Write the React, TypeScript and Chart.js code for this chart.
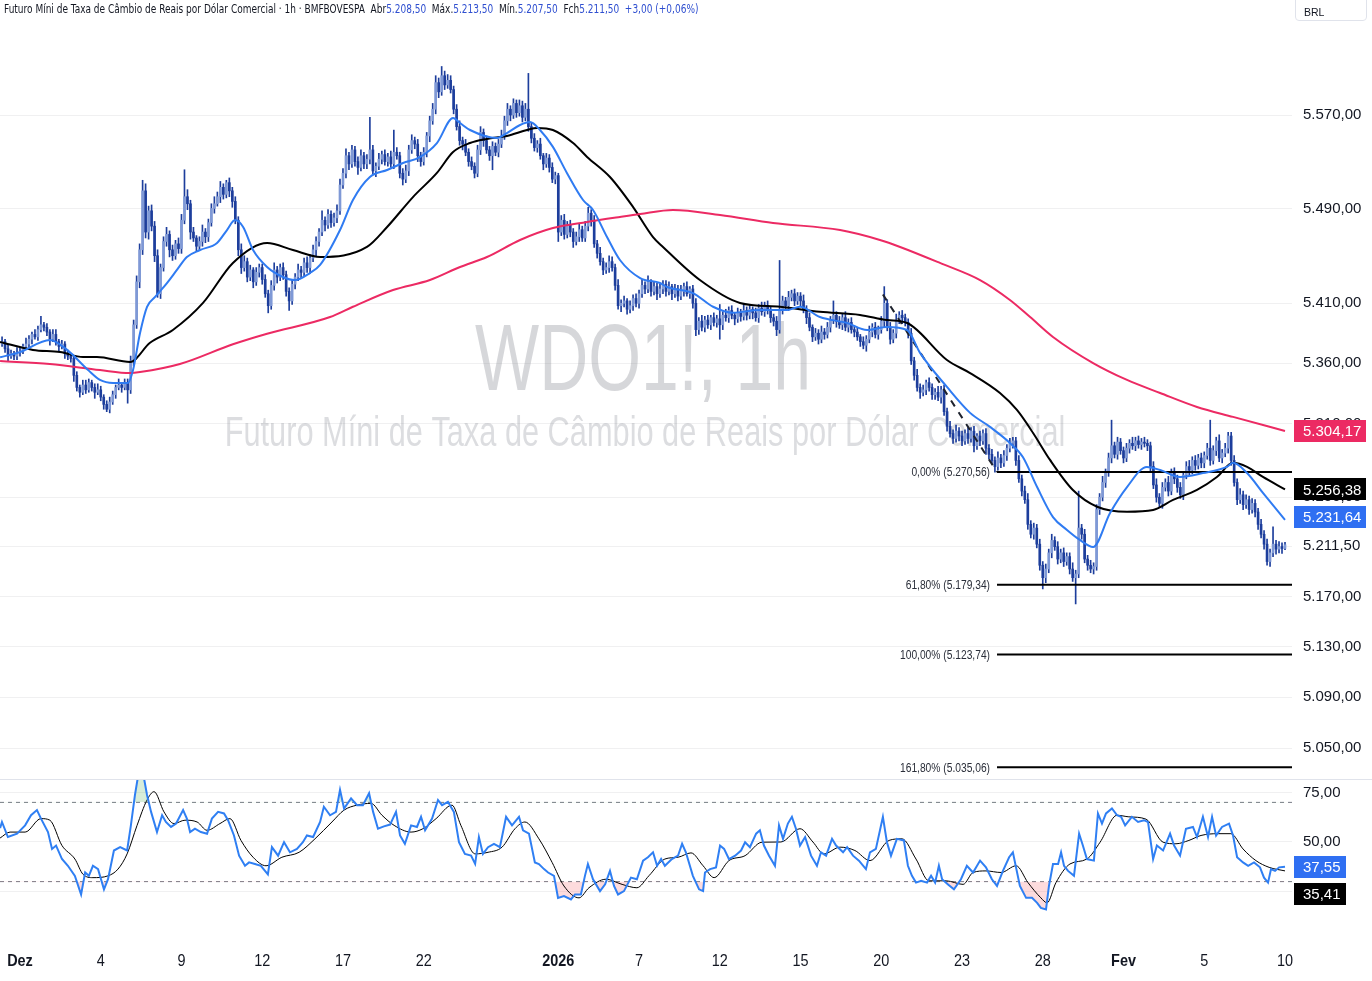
import React, { useEffect, useRef } from "react";
import { Chart, registerables } from "chart.js";

Chart.register(...registerables);

// ---------------- fonts / colours ----------------
const FONT_NARROW = "'Liberation Sans Narrow', 'DejaVu Sans Condensed', 'Liberation Sans', sans-serif";
const FONT_AXIS = "'Liberation Sans', Arial, sans-serif";
const TEXT = "#131722";
const GRID = "rgba(42,46,57,0.07)";
const CANDLE_DOWN = "#1d3e9c";
const CANDLE_UP = "#7f99d6";
const MA_FAST = "#2f7bf2";
const MA_MID = "#000000";
const MA_SLOW = "#ec2a63";
const RSI_BLUE = "#2f7ff3";

// ---------------- axes ----------------
const X_MIN = -0.743;
const X_MAX = 47.26;
const PRICE_MIN = 5025.93;
const PRICE_MAX = 5670.06;
const RSI_MIN = -2;
const RSI_MAX = 81.8;

const priceTicks = [5050, 5090, 5130, 5170, 5210, 5250, 5310, 5360, 5410, 5490, 5570];
const rsiTicks = [25, 50, 75];
const dayTicks = [0, 3, 6, 9, 12, 15, 20, 23, 26, 29, 32, 35, 38, 41, 44, 47];
const dayLabels = ["Dez", "4", "9", "12", "17", "22", "2026", "7", "12", "15", "20", "23", "28", "Fev", "5", "10"];
const dayLabelBold = [true, false, false, false, false, false, true, false, false, false, false, false, false, true, false, false];

// ---------------- candles (1h, 9 bars per trading day) ----------------
const firstDay = -1;
const firstSlot = 3;
const barsPerDay = 9;
const firstOpen = 5376;

const closes = [
  5378, 5372, 5366, 5368, 5366, 5369,
  5370, 5374, 5376, 5380, 5384, 5382, 5388, 5392, 5390,
  5386, 5380, 5384, 5378, 5374, 5376, 5368, 5366, 5364,
  5350, 5340, 5336, 5342, 5338, 5344, 5340, 5336, 5338,
  5332, 5326, 5322, 5328, 5334, 5340, 5342, 5340, 5344,
  5338, 5362, 5392, 5428, 5455, 5505, 5470, 5488, 5475,
  5450, 5418, 5440, 5462, 5468, 5455, 5450, 5460, 5456,
  5480, 5500, 5494, 5470, 5465, 5458, 5462, 5470, 5466,
  5478, 5490, 5494, 5500, 5508, 5502, 5512, 5505, 5496,
  5480, 5455, 5440, 5445, 5432, 5438, 5428, 5436, 5440,
  5430, 5418, 5408, 5425, 5438, 5432, 5440, 5434, 5420,
  5412, 5426, 5432, 5438, 5436, 5444, 5440, 5448, 5455,
  5462, 5470, 5480, 5476, 5485, 5478, 5482, 5488, 5510,
  5520, 5535, 5528, 5540, 5530, 5525, 5535, 5528, 5532,
  5540, 5522, 5526, 5532, 5536, 5530, 5534, 5528, 5538,
  5535, 5520, 5515, 5522, 5540, 5548, 5545, 5535, 5530,
  5538, 5552, 5565, 5575, 5598, 5590, 5604, 5596, 5600,
  5592, 5575, 5560, 5548, 5545, 5538, 5530, 5526, 5520,
  5540, 5555, 5548, 5540, 5535, 5543, 5538, 5545, 5552,
  5565, 5575, 5570, 5580, 5572, 5578, 5568, 5575, 5560,
  5550, 5542, 5545, 5535, 5528, 5533, 5525, 5515, 5518,
  5470, 5480, 5468, 5476, 5470, 5462, 5466, 5472, 5465,
  5475, 5486, 5480, 5460, 5452, 5445, 5438, 5440, 5445,
  5440, 5425, 5408, 5410, 5412, 5405, 5408, 5414, 5410,
  5418, 5425, 5422, 5428, 5420, 5424, 5418, 5422, 5426,
  5420, 5424, 5418, 5422, 5416, 5420, 5424, 5418, 5422,
  5410, 5388, 5395, 5390, 5396, 5392, 5398, 5394, 5397,
  5392, 5400, 5398, 5404, 5400, 5397, 5402, 5399, 5404,
  5400, 5405, 5402, 5398, 5406, 5403, 5408, 5404, 5398,
  5395, 5388, 5405, 5412, 5408, 5415, 5418, 5412, 5416,
  5412, 5405, 5398, 5390, 5382, 5385, 5380, 5386, 5384,
  5390, 5396, 5400, 5395, 5392, 5398, 5390, 5394, 5388,
  5386, 5382, 5378, 5375, 5380, 5386, 5390, 5384, 5388,
  5395, 5410, 5390, 5380, 5385, 5396, 5400, 5398, 5394,
  5385, 5362, 5350, 5340, 5336, 5338, 5344, 5340, 5334,
  5336, 5332, 5338, 5320, 5308, 5302, 5298, 5304, 5300,
  5296, 5302, 5298, 5304, 5292, 5300, 5296, 5302, 5290,
  5285, 5280, 5275, 5282, 5278, 5284, 5290, 5294, 5296,
  5280, 5265, 5255, 5248, 5228, 5220, 5225, 5212, 5195,
  5185, 5192, 5205, 5215, 5210, 5200, 5205, 5198, 5202,
  5192, 5185, 5188, 5225, 5220, 5200, 5195, 5192, 5194,
  5240, 5250, 5262, 5270, 5282, 5292, 5285, 5295, 5288,
  5282, 5290, 5294, 5292, 5296, 5293, 5295, 5294, 5292,
  5275, 5260, 5250, 5245, 5258, 5262, 5255, 5270, 5265,
  5258, 5252, 5268, 5275, 5272, 5280, 5276, 5282, 5278,
  5284, 5290, 5280, 5288, 5296, 5282, 5286, 5290, 5300,
  5280, 5262, 5248, 5252, 5244, 5248, 5240, 5245, 5238,
  5228, 5220, 5212, 5198, 5205, 5212, 5208, 5210, 5208.5,
  5211.5,
];

const highExt = [
  4, 2, 3, 3, 2, 4,
  3, 2, 5, 3, 2, 4, 3, 7, 2,
  3, 2, 4, 4, 2, 3, 2, 3, 2,
  2, 3, 2, 4, 4, 3, 2, 3, 5,
  3, 2, 3, 4, 3, 2, 5, 2, 3,
  3, 4, 4, 5, 5, 9, 6, 4, 5,
  4, 5, 3, 4, 6, 3, 4, 3, 5,
  5, 23, 6, 3, 4, 2, 4, 6, 3,
  3, 4, 6, 4, 5, 3, 2, 4, 3,
  4, 3, 5, 5, 3, 4, 2, 4, 3,
  3, 4, 3, 4, 6, 3, 3, 4, 3,
  3, 4, 3, 5, 3, 4, 5, 3, 4,
  4, 3, 8, 3, 4, 3, 4, 5, 5,
  4, 6, 3, 4, 3, 4, 5, 3, 4,
  28, 4, 3, 5, 3, 4, 3, 5, 19,
  4, 3, 4, 5, 4, 5, 3, 4, 3,
  4, 3, 4, 5, 6, 4, 8, 4, 5,
  4, 3, 4, 5, 3, 4, 3, 4, 3,
  4, 5, 3, 4, 3, 4, 3, 4, 5,
  4, 5, 3, 4, 3, 5, 4, 5, 31,
  3, 4, 3, 5, 2, 4, 3, 4, 3,
  2, 4, 5, 3, 4, 3, 4, 5, 3,
  4, 5, 3, 4, 3, 5, 3, 4, 5,
  4, 3, 5, 3, 4, 2, 4, 3, 4,
  3, 5, 3, 5, 2, 4, 3, 4, 3,
  3, 4, 2, 4, 3, 5, 3, 4, 2,
  3, 4, 3, 5, 3, 4, 2, 4, 3,
  12, 3, 5, 3, 4, 2, 4, 3, 5,
  3, 4, 2, 4, 3, 5, 3, 4, 3,
  3, 4, 41, 4, 3, 5, 3, 4, 3,
  3, 5, 3, 4, 2, 4, 3, 5, 3,
  4, 3, 12, 3, 4, 3, 5, 3, 4,
  3, 4, 2, 4, 3, 5, 3, 4, 3,
  4, 14, 3, 4, 3, 5, 3, 4, 3,
  3, 4, 3, 5, 3, 4, 2, 4, 3,
  3, 5, 3, 4, 3, 4, 3, 5, 3,
  4, 3, 5, 3, 4, 2, 4, 3, 4,
  3, 4, 3, 5, 3, 4, 3, 4, 3,
  3, 4, 3, 4, 5, 3, 4, 3, 4,
  3, 4, 3, 5, 3, 4, 3, 4, 3,
  3, 5, 3, 30, 3, 4, 3, 4, 3,
  4, 3, 5, 3, 4, 21, 3, 4, 3,
  3, 4, 3, 5, 3, 4, 3, 4, 3,
  3, 4, 5, 3, 4, 3, 5, 3, 4,
  3, 4, 3, 4, 5, 3, 4, 3, 4,
  3, 4, 23, 4, 3, 5, 3, 4, 3,
  3, 4, 3, 5, 3, 4, 3, 4, 3,
  3, 4, 3, 4, 3, 14, 3, 4, 3,
  2,
];

const lowExt = [
  2, 3, 4, 2, 3, 3,
  3, 2, 2, 4, 4, 2, 3, 2, 3,
  3, 5, 2, 3, 4, 2, 4, 3, 3,
  5, 3, 4, 2, 3, 2, 3, 5, 2,
  3, 4, 2, 3, 2, 3, 2, 4, 2,
  11, 3, 4, 3, 5, 4, 5, 6, 4,
  5, 3, 4, 3, 4, 6, 4, 3, 4,
  4, 3, 5, 6, 3, 4, 3, 4, 5,
  4, 3, 4, 2, 5, 4, 3, 5, 5,
  3, 5, 5, 3, 4, 3, 5, 3, 4,
  4, 3, 6, 3, 4, 5, 3, 4, 4,
  8, 3, 4, 3, 5, 3, 4, 5, 3,
  5, 4, 3, 5, 3, 4, 3, 4, 3,
  3, 4, 5, 3, 4, 6, 3, 4, 4,
  4, 3, 5, 3, 4, 3, 4, 3, 4,
  3, 4, 5, 3, 4, 3, 4, 5, 4,
  3, 4, 5, 3, 4, 5, 3, 4, 3,
  3, 4, 3, 4, 5, 3, 4, 3, 4,
  3, 4, 5, 3, 4, 12, 3, 4, 3,
  3, 4, 5, 3, 4, 3, 4, 3, 4,
  4, 3, 4, 3, 5, 3, 4, 3, 4,
  8, 3, 4, 3, 4, 5, 3, 4, 3,
  3, 4, 5, 3, 4, 3, 4, 3, 4,
  3, 4, 3, 5, 3, 4, 3, 4, 3,
  4, 3, 4, 3, 4, 3, 5, 3, 4,
  4, 3, 5, 3, 4, 3, 4, 2, 4,
  4, 5, 4, 3, 4, 3, 4, 3, 4,
  12, 4, 3, 4, 3, 5, 3, 4, 3,
  4, 3, 5, 3, 4, 3, 4, 3, 4,
  4, 5, 3, 4, 3, 4, 3, 4, 3,
  4, 3, 5, 3, 4, 3, 4, 3, 4,
  3, 4, 3, 5, 3, 4, 3, 4, 3,
  4, 3, 4, 3, 5, 3, 4, 3, 4,
  3, 5, 3, 4, 3, 4, 3, 5, 3,
  4, 3, 4, 3, 5, 3, 4, 3, 4,
  4, 3, 5, 3, 4, 3, 4, 3, 4,
  4, 3, 4, 3, 5, 3, 4, 3, 5,
  4, 3, 4.5, 3, 4, 3, 4, 3, 4,
  4, 3, 4, 3, 4, 3, 4, 3, 4,
  9, 4, 3, 4, 3, 4, 3, 4, 3,
  4, 3, 21, 3, 4, 3, 4, 3, 4,
  3, 4, 3, 4, 3, 4, 3, 4, 3,
  4, 3, 4, 3, 4, 3, 4, 3, 4,
  4, 3, 4, 3, 4, 3, 4, 3, 4,
  4, 3, 4, 3, 4, 3, 4, 3, 4,
  4, 3, 4, 3, 4, 3, 4, 3, 4,
  4, 3, 4, 3, 4, 3, 4, 3, 4,
  4, 3, 4, 3, 4, 3, 4, 3, 4,
  1,
];

// ---------------- moving averages ([trading day, price]) ----------------
const maFast = [
  [-0.74, 5365], [0, 5369.3], [1.11, 5379.4], [1.75, 5371.1], [2.53, 5354.4], [2.97, 5346.2], [3.46, 5343.7],
  [4.01, 5343.7], [4.2, 5354.4], [4.46, 5385.2], [4.72, 5407.1], [5.02, 5415.3], [5.46, 5427], [5.83, 5438],
  [6.2, 5448.9], [6.69, 5454.8], [7.32, 5460.8], [7.69, 5471.7], [7.99, 5480.2], [8.29, 5474.3], [8.66, 5454.8],
  [9.18, 5440.5], [9.77, 5432.1], [10.22, 5429.5], [10.77, 5435.4], [11.15, 5442.2], [11.89, 5471.7], [12.37, 5497.2],
  [13, 5516.8], [13.64, 5522.8], [14.23, 5528.8], [14.86, 5533.9], [15.49, 5545.9], [16.09, 5567.4], [16.35, 5563.1],
  [16.72, 5557.1], [17.72, 5550.2], [18.09, 5554.5], [18.58, 5561.4], [18.95, 5563.9], [19.32, 5557.1], [19.8, 5542.6],
  [20.32, 5520.3], [20.92, 5497.2], [21.29, 5488.7], [21.81, 5465.8], [22.29, 5446.4], [23.04, 5431.2], [23.78, 5427],
  [24.04, 5423.7], [25, 5418.6], [25.75, 5407.1], [26.49, 5402.1], [27.49, 5404.4], [28.5, 5404.4], [28.98, 5407.1],
  [29.72, 5398.5], [30.73, 5393.5], [31.47, 5387.7], [32.21, 5390.2], [32.96, 5387.7], [33.44, 5368.6], [34.44, 5340.4],
  [35.3, 5319], [36.04, 5307.5], [36.78, 5294.3], [37.26, 5282.8], [37.79, 5258.3], [38.38, 5233.9], [38.9, 5223.5],
  [39.38, 5215.4], [39.87, 5209.7], [40.5, 5237.2], [41.13, 5258.3], [41.87, 5274.7], [42.36, 5272.2], [43.1, 5266.5],
  [43.95, 5269.7], [44.84, 5274.7], [45.07, 5278], [45.59, 5269.7], [46.18, 5253.5], [47, 5231.64],
];

const maMid = [
  [-0.74, 5377.7], [0.48, 5371.1], [1.49, 5369.4], [2.34, 5365.2], [2.86, 5365.2], [4.09, 5361.1], [4.83, 5377],
  [5.68, 5387.7], [6.8, 5410.3], [7.91, 5443.9], [9.18, 5460.8], [10.14, 5454.8], [11.15, 5448.9], [12.89, 5457.4],
  [13.64, 5474.3], [14.6, 5499.7], [15.49, 5520.3], [16.09, 5538.2], [16.72, 5545.9], [17.35, 5549.4], [18.09, 5552],
  [18.84, 5557.1], [19.21, 5558.9], [19.8, 5557.1], [20.55, 5545.9], [21.07, 5534], [21.92, 5516.8], [22.78, 5491.2],
  [23.52, 5465.8], [23.89, 5457.4], [25.26, 5429.5], [26.75, 5410.3], [28.24, 5407.1], [29.72, 5402.9], [31.21, 5400.3],
  [32.21, 5396], [32.96, 5393.5], [34.44, 5362.7], [35.3, 5351.9], [36.41, 5335.4], [37.04, 5321.4], [37.64, 5302.5],
  [38.27, 5280.4], [39.12, 5255.9], [40.02, 5242.3], [41.13, 5238.2], [42.1, 5239.6], [42.84, 5247.8], [43.73, 5255.9],
  [44.47, 5266.5], [45.07, 5278], [45.59, 5274.7], [46.18, 5266.5], [47, 5256.38],
];

const maSlow = [
  [-0.74, 5361.9], [1.11, 5359.4], [2.97, 5354.4], [4.09, 5351.9], [4.46, 5352.7], [5.94, 5359.4], [7.91, 5375.8],
  [9.18, 5384.6], [11.52, 5398.5], [12.37, 5407.1], [13.86, 5421.1], [15.23, 5429.5], [16.35, 5440.5], [17.35, 5448.9],
  [18.58, 5463.3], [19.8, 5473.4], [21.07, 5478.5], [22.29, 5482.8], [23.04, 5485.3], [24.26, 5488.7], [26.01, 5484.5],
  [27.98, 5477.7], [30.47, 5471.7], [31.95, 5463.3], [32.7, 5457.4], [34.18, 5443.9], [35.67, 5429.5], [36.78, 5412.8],
  [37.53, 5398.5], [38.38, 5381.9], [39.87, 5360.2], [41.13, 5346.2], [42.36, 5335.4], [43.73, 5323.9], [45.07, 5315.7],
  [47, 5304.17],
];

// ---------------- RSI ([trading day, value]) ----------------
const rsiLine = [
  [-0.74, 57], [-0.67, 60.1], [-0.45, 52.5], [-0.11, 54.2], [0.19, 58.4], [0.41, 63.5], [0.63, 66.1], [0.78, 61.8],
  [1.04, 55], [1.19, 46.5], [1.34, 48.2], [1.56, 41.4], [1.78, 38], [2.04, 32.9], [2.27, 23.5], [2.42, 34.6],
  [2.56, 32.9], [2.71, 38], [2.9, 36.3], [3.12, 26.1], [3.27, 31.2], [3.49, 45.7], [3.72, 47.4], [3.98, 45.7],
  [4.12, 58.4], [4.27, 73.7], [4.42, 86], [4.57, 85], [4.72, 73.7], [4.87, 65.2], [5.09, 55], [5.28, 63.5],
  [5.42, 60.1], [5.61, 57.6], [5.8, 59.3], [6.06, 66.1], [6.2, 61.8], [6.32, 55], [6.5, 56.7], [6.72, 55],
  [6.95, 54.2], [7.13, 61.8], [7.36, 65.2], [7.58, 64.4], [7.73, 61], [7.95, 53.3], [8.14, 43.1], [8.36, 38],
  [8.51, 39.7], [8.73, 38.9], [8.95, 38], [9.21, 33.7], [9.36, 47.4], [9.59, 43.1], [9.81, 49.9], [10.03, 44.8],
  [10.29, 46.5], [10.51, 49.9], [10.66, 53.3], [10.89, 52.5], [11.15, 60.1], [11.29, 67.8], [11.52, 63.5], [11.74, 65.2],
  [11.89, 76.3], [12.04, 66.9], [12.3, 72], [12.52, 68.6], [12.74, 68.6], [12.97, 74.6], [13.12, 65.2], [13.3, 56.7],
  [13.52, 57.9], [13.75, 58.8], [13.97, 65.2], [14.12, 53.3], [14.3, 49.1], [14.53, 58.4], [14.75, 57.6], [14.9, 62.7],
  [15.05, 55.9], [15.31, 61.8], [15.53, 71.2], [15.68, 68.6], [15.9, 70.3], [16.12, 65.2], [16.31, 49.9], [16.53, 44],
  [16.76, 43.1], [16.91, 38.9], [17.05, 52.5], [17.2, 44], [17.39, 47.4], [17.61, 49.1], [17.83, 47.4], [18.06, 62.7],
  [18.28, 58.4], [18.54, 62.7], [18.69, 55.9], [18.91, 54.2], [19.13, 39.7], [19.28, 38.9], [19.47, 36.3], [19.62, 34.6],
  [19.84, 32.9], [19.99, 21.8], [20.21, 22.7], [20.47, 21], [20.62, 23.5], [20.84, 23.5], [20.99, 32.9], [21.1, 38.9],
  [21.29, 31.2], [21.55, 25.2], [21.74, 28.6], [21.92, 35.4], [22.07, 27.8], [22.22, 23.5], [22.44, 25.2], [22.7, 32],
  [22.92, 31.2], [23.15, 40.6], [23.33, 42.3], [23.52, 44.8], [23.67, 38], [23.82, 41.4], [23.96, 38], [24.22, 41.4],
  [24.45, 43.1], [24.6, 49.1], [24.74, 44.8], [25, 32.9], [25.23, 26.1], [25.38, 25.2], [25.45, 34.6], [25.64, 36.3],
  [25.86, 37.2], [26.01, 48.2], [26.16, 46.5], [26.34, 41.4], [26.57, 43.1], [26.79, 45.7], [26.94, 49.9], [27.12, 47.4],
  [27.35, 54.2], [27.49, 55.9], [27.64, 48.2], [27.83, 43.1], [28.05, 38], [28.2, 58.4], [28.35, 51.6], [28.53, 59.3],
  [28.68, 62.7], [28.83, 56.7], [28.98, 48.2], [29.17, 52.5], [29.39, 43.1], [29.61, 38], [29.76, 44.8], [29.95, 43.1],
  [30.17, 51.6], [30.32, 48.2], [30.58, 44.8], [30.73, 47.4], [30.95, 43.1], [31.17, 40.6], [31.43, 36.3], [31.58, 44.8],
  [31.8, 46.5], [32.06, 62.7], [32.21, 49.9], [32.36, 43.1], [32.58, 51.6], [32.84, 50.8], [32.99, 38], [33.14, 32.9],
  [33.29, 29.5], [33.48, 30.4], [33.7, 29.5], [33.85, 33], [34, 29.5], [34.14, 38], [34.26, 31.2], [34.48, 28.6],
  [34.7, 26.1], [34.96, 31.2], [35.18, 38], [35.41, 34.6], [35.67, 40.6], [35.89, 37.2], [36.11, 31.2], [36.3, 27.8],
  [36.52, 35.4], [36.75, 42.3], [36.89, 44.8], [37.15, 27.8], [37.38, 21.8], [37.6, 21.8], [37.79, 19.3], [37.93, 16.7],
  [38.12, 15.9], [38.23, 27.8], [38.38, 38.9], [38.57, 38.9], [38.68, 44.8], [38.79, 38], [38.94, 35.4], [39.16, 32.9],
  [39.35, 54.2], [39.49, 48.2], [39.64, 41.4], [39.9, 40.6], [40.05, 64.4], [40.2, 59.3], [40.35, 64.4], [40.57, 66.9],
  [40.76, 63.5], [40.91, 62.7], [41.06, 58.4], [41.31, 62.7], [41.54, 60.1], [41.76, 61], [41.91, 60.1], [42.1, 41.4],
  [42.24, 48.2], [42.47, 45.7], [42.73, 54.2], [42.88, 48.2], [43.1, 43.1], [43.32, 56.7], [43.58, 57.6], [43.73, 52.5],
  [43.95, 62.7], [44.14, 52.5], [44.29, 62.7], [44.44, 53.3], [44.66, 57.6], [44.92, 59.3], [45.07, 53.3], [45.22, 42.3],
  [45.44, 39.7], [45.63, 38], [45.85, 39.7], [46.07, 37.2], [46.22, 32], [46.37, 29.5], [46.48, 36.3], [46.63, 35.4],
  [46.78, 37.2], [47, 37.55],
];

const rsiSignal = [
  [-0.74, 52], [-0.37, 55], [0.19, 55], [0.78, 61.8], [1.11, 61], [1.56, 48.2], [2.04, 41.4], [2.34, 33.7], [2.71, 32],
  [3.27, 32.9], [3.64, 36.3], [3.98, 44], [4.35, 58.4], [4.72, 71.2], [4.98, 75.4], [5.35, 65.2], [5.72, 59.3],
  [6.13, 61], [6.58, 60.1], [6.95, 55.9], [7.43, 59.3], [7.8, 61.8], [8.21, 50.8], [8.66, 42.3], [9.14, 38],
  [9.73, 42.3], [10.37, 44.8], [10.96, 51.6], [11.59, 60.1], [12.04, 66.1], [12.52, 68.6], [13.04, 69.5], [13.45, 63.5],
  [13.9, 58.4], [14.53, 55], [14.97, 56.7], [15.46, 61.8], [16.05, 68.6], [16.38, 58.4], [16.91, 44], [17.39, 44.8],
  [17.91, 47.4], [18.39, 56.7], [18.76, 60.1], [19.28, 51.6], [19.77, 39.7], [20.21, 27.8], [20.77, 21.8], [21.14, 26.9],
  [21.77, 31.2], [22.37, 28.6], [22.92, 26.9], [23.37, 33], [23.96, 41.4], [24.45, 42.3], [24.93, 44.5], [25.38, 38],
  [25.79, 32], [26.34, 40.6], [26.94, 43.1], [27.57, 49.9], [28.27, 50], [28.98, 56.7], [29.46, 50], [29.87, 44],
  [30.47, 47.4], [31.02, 45.7], [31.58, 40.6], [32.29, 50.8], [32.77, 51.6], [33.29, 41.4], [33.77, 30.4], [34.41, 30.4],
  [35.04, 28.6], [35.41, 34.6], [35.89, 35.4], [36.45, 34.6], [37.01, 38], [37.45, 29.5], [37.93, 21.8], [38.16, 19.3],
  [38.49, 29.5], [39.01, 38.9], [39.64, 41.4], [40.13, 49.9], [40.76, 63.5], [41.2, 62.7], [41.84, 61.5], [42.47, 49.9],
  [42.95, 49.1], [43.43, 50.8], [43.88, 53.3], [44.51, 54.2], [44.99, 54.2], [45.44, 46.5], [45.92, 40.6], [46.41, 37.2],
  [47, 35.41],
];
const rsiBands = [70, 30];

// ---------------- Fibonacci extension ----------------
const fibRatios = ["0,00%", "61,80%", "100,00%", "161,80%"];
const fibLevels = [5270.56, 5179.34, 5123.74, 5035.06];
const fibStartDay = 36.3;
const trendLine = [[32.06, 5417.38], [36.3, 5270.56]];

// ---------------- texts ----------------
const symbolText = "WDO1!, 1h";
const descText = "Futuro Míni de Taxa de Câmbio de Reais por Dólar Comercial";
const headerMeta = "1h · BMFBOVESPA";
const currency = "BRL";

// ---------------- helpers ----------------
function fmt(v: number, dec = 2) {
  const s = Number(v).toFixed(dec);
  const parts = s.split(".");
  const neg = parts[0].startsWith("-");
  const intp = (neg ? parts[0].slice(1) : parts[0]).replace(/\B(?=(\d{3})+(?!\d))/g, ".");
  return (neg ? "-" : "") + intp + (parts[1] ? "," + parts[1] : "");
}

const candles = closes.map((c, i) => {
  const o = i === 0 ? firstOpen : closes[i - 1];
  const slotIndex = firstSlot + i;
  const day = firstDay + Math.floor(slotIndex / barsPerDay);
  const slot = slotIndex % barsPerDay;
  return {
    x: day + slot / barsPerDay,
    o,
    c,
    h: Math.max(o, c) + highExt[i],
    l: Math.min(o, c) - lowExt[i],
  };
});
const lastBar = candles[candles.length - 1];
const prevClose = closes[closes.length - 2];

const pts = (arr: number[][]) => arr.map(([x, y]) => ({ x, y }));

function drawBadge(ctx: CanvasRenderingContext2D, y: number, text: string, bg: string, fg: string, x: number, w: number) {
  ctx.fillStyle = bg;
  ctx.fillRect(x, Math.round(y - 11), w, 22);
  ctx.fillStyle = fg;
  ctx.textAlign = "left";
  ctx.textBaseline = "middle";
  ctx.font = `15px ${FONT_AXIS}`;
  ctx.fillText(text, x + 9, y + 1);
}

function scaledText(ctx: CanvasRenderingContext2D, text: string, x: number, y: number, sx: number, font: string, align: CanvasTextAlign, color: string) {
  ctx.save();
  ctx.translate(x, y);
  ctx.scale(sx, 1);
  ctx.font = font;
  ctx.textAlign = align;
  ctx.textBaseline = "middle";
  ctx.fillStyle = color;
  ctx.fillText(text, 0, 0);
  ctx.restore();
}

const watermarkPlugin = {
  id: "watermark",
  beforeDatasetsDraw(chart: any) {
    const { ctx, chartArea } = chart;
    const cx = (chartArea.left + chartArea.right) / 2;
    ctx.save();
    ctx.fillStyle = "rgba(120,123,134,0.30)";
    ctx.textAlign = "center";
    ctx.textBaseline = "alphabetic";
    ctx.translate(cx - 3, 390);
    ctx.scale(0.715, 1);
    ctx.font = `95px ${FONT_AXIS}`;
    ctx.fillText(symbolText, 0, 0);
    ctx.restore();
    ctx.save();
    ctx.fillStyle = "rgba(120,123,134,0.26)";
    ctx.textAlign = "center";
    ctx.textBaseline = "alphabetic";
    ctx.translate(cx - 1, 446);
    ctx.scale(0.715, 1);
    ctx.font = `43px ${FONT_AXIS}`;
    ctx.fillText(descText, 0, 0);
    ctx.restore();
  },
};

const priceOverlayPlugin = {
  id: "priceOverlay",
  afterDatasetsDraw(chart: any) {
    const { ctx } = chart;
    const xs = chart.scales.x;
    const ys = chart.scales.y;
    fibLevels.forEach((lv, i) => {
      scaledText(
        ctx,
        `${fibRatios[i]} (${fmt(lv)})`,
        xs.getPixelForValue(fibStartDay) - 7,
        ys.getPixelForValue(lv) + 1,
        0.82,
        `12.5px ${FONT_AXIS}`,
        "right",
        "#2a2e39"
      );
    });
  },
  afterDraw(chart: any) {
    const { ctx } = chart;
    const ys = chart.scales.y;
    const x0 = chart.chartArea.right + 2;
    ctx.save();
    drawBadge(ctx, ys.getPixelForValue(maSlow[maSlow.length - 1][1]), fmt(maSlow[maSlow.length - 1][1]), MA_SLOW, "#fff", x0, 72);
    drawBadge(ctx, ys.getPixelForValue(maMid[maMid.length - 1][1]), fmt(maMid[maMid.length - 1][1]), "#000", "#fff", x0, 72);
    drawBadge(ctx, ys.getPixelForValue(maFast[maFast.length - 1][1]) - 3, fmt(maFast[maFast.length - 1][1]), "#2f6ff2", "#fff", x0, 72);
    drawBadge(ctx, ys.getPixelForValue(lastBar.c), fmt(lastBar.c), "#ffffff", TEXT, x0, 72);
    ctx.restore();
  },
};

const rsiOverlayPlugin = {
  id: "rsiOverlay",
  afterDraw(chart: any) {
    const { ctx, width, chartArea } = chart;
    const ys = chart.scales.y;
    const xs = chart.scales.x;
    const x0 = chartArea.right + 2;
    ctx.save();
    ctx.fillStyle = "#e0e3eb";
    ctx.fillRect(0, 0, width, 1);
    const vals = [
      { v: rsiLine[rsiLine.length - 1][1], bg: "#2f6ff2" },
      { v: rsiSignal[rsiSignal.length - 1][1], bg: "#000" },
    ];
    let prevBottom = -Infinity;
    vals.forEach((b) => {
      let y = ys.getPixelForValue(b.v);
      if (y - 11 < prevBottom + 5) y = prevBottom + 5 + 11;
      prevBottom = y + 11;
      drawBadge(ctx, y, fmt(b.v), b.bg, "#fff", x0, 52);
    });
    ctx.restore();
    dayTicks.forEach((d, i) => {
      scaledText(
        ctx,
        dayLabels[i],
        xs.getPixelForValue(d),
        chartArea.bottom + 16,
        0.85,
        `${dayLabelBold[i] ? "bold " : ""}17px ${FONT_AXIS}`,
        "center",
        TEXT
      );
    });
  },
};

function PriceChart() {
  const ref = useRef<HTMLCanvasElement>(null);
  useEffect(() => {
    if (!ref.current) return;
    const lineBase = { type: "line", pointRadius: 0, borderWidth: 2, fill: false, tension: 0.4, cubicInterpolationMode: "monotone" };
    const chart = new Chart(ref.current, {
      type: "bar",
      data: {
        datasets: [
          { ...lineBase, label: "mmSlow", data: pts(maSlow), borderColor: MA_SLOW, order: 1 },
          { ...lineBase, label: "mmMid", data: pts(maMid), borderColor: MA_MID, order: 1 },
          { ...lineBase, label: "mmFast", data: pts(maFast), borderColor: MA_FAST, order: 0 },
          ...fibLevels.map((lv) => ({
            type: "line",
            label: "fib",
            data: [{ x: fibStartDay, y: lv }, { x: X_MAX, y: lv }],
            borderColor: "#000",
            borderWidth: 2,
            pointRadius: 0,
            order: 2,
          })),
          {
            type: "line",
            label: "trend",
            data: pts(trendLine),
            borderColor: "#1e222d",
            borderWidth: 2,
            borderDash: [7, 7],
            pointRadius: 0,
            order: 2,
          },
          {
            type: "bar",
            label: "wick",
            data: candles.map((b) => ({ x: b.x, y: [b.l, b.h] })),
            backgroundColor: CANDLE_DOWN,
            barThickness: 1,
            grouped: false,
            order: 6,
          },
          {
            type: "bar",
            label: "body",
            data: candles.map((b) => ({ x: b.x, y: [b.o, b.c] })),
            backgroundColor: candles.map((b) => (b.c >= b.o ? CANDLE_UP : CANDLE_DOWN)),
            barThickness: 2,
            minBarLength: 1,
            grouped: false,
            order: 5,
          },
        ],
      } as any,
      options: {
        animation: false,
        responsive: false,
        events: [],
        layout: { padding: 0 },
        plugins: { legend: { display: false }, tooltip: { enabled: false } },
        scales: {
          x: { type: "linear", min: X_MIN, max: X_MAX, display: false, offset: false },
          y: {
            type: "logarithmic",
            position: "right",
            min: PRICE_MIN,
            max: PRICE_MAX,
            afterBuildTicks: (s: any) => {
              s.ticks = priceTicks.map((v) => ({ value: v }));
            },
            afterFit: (s: any) => {
              s.width = 80;
              s.paddingTop = 0;
              s.paddingBottom = 0;
            },
            grid: { color: GRID, drawTicks: false, tickLength: 0 },
            border: { display: false },
            ticks: {
              padding: 11,
              color: TEXT,
              font: { family: FONT_AXIS, size: 15 },
              callback: (v: any) => fmt(v),
            },
          },
        },
      } as any,
      plugins: [watermarkPlugin, priceOverlayPlugin],
    });
    return () => chart.destroy();
  }, []);
  return <canvas ref={ref} width={1372} height={779} style={{ position: "absolute", left: 0, top: 0 }} />;
}

function RsiChart() {
  const ref = useRef<HTMLCanvasElement>(null);
  useEffect(() => {
    if (!ref.current) return;
    const chart = new Chart(ref.current, {
      type: "line",
      data: {
        datasets: [
          {
            label: "rsi",
            data: pts(rsiLine),
            borderColor: RSI_BLUE,
            borderWidth: 2,
            pointRadius: 0,
            tension: 0,
            fill: { target: { value: rsiBands[0] }, above: "rgba(76,175,80,0.22)", below: "rgba(0,0,0,0)" },
            order: 0,
          },
          {
            label: "rsiLowFill",
            data: pts(rsiLine),
            borderColor: "rgba(0,0,0,0)",
            borderWidth: 0,
            pointRadius: 0,
            tension: 0,
            fill: { target: { value: rsiBands[1] }, above: "rgba(0,0,0,0)", below: "rgba(242,54,69,0.18)" },
            order: 3,
          },
          {
            label: "signal",
            data: pts(rsiSignal),
            borderColor: "#000",
            borderWidth: 1,
            pointRadius: 0,
            tension: 0.4,
            cubicInterpolationMode: "monotone",
            order: 1,
          },
          ...rsiBands.map((b) => ({
            label: "band",
            data: [{ x: X_MIN, y: b }, { x: X_MAX, y: b }],
            borderColor: "#787b86",
            borderWidth: 1,
            borderDash: [4, 4],
            pointRadius: 0,
            order: 4,
          })),
        ],
      } as any,
      options: {
        animation: false,
        responsive: false,
        events: [],
        layout: { padding: 0 },
        plugins: { legend: { display: false }, tooltip: { enabled: false } },
        scales: {
          x: {
            type: "linear",
            min: X_MIN,
            max: X_MAX,
            position: "bottom",
            offset: false,
            afterBuildTicks: (s: any) => {
              s.ticks = dayTicks.map((v) => ({ value: v }));
            },
            afterFit: (s: any) => {
              s.height = 36;
              s.paddingLeft = 0;
              s.paddingRight = 0;
            },
            grid: { display: false, drawTicks: false },
            border: { display: false },
            ticks: { display: false },
          },
          y: {
            type: "linear",
            position: "right",
            min: RSI_MIN,
            max: RSI_MAX,
            afterBuildTicks: (s: any) => {
              s.ticks = rsiTicks.map((v) => ({ value: v }));
            },
            afterFit: (s: any) => {
              s.width = 80;
              s.paddingTop = 0;
              s.paddingBottom = 0;
            },
            grid: { color: GRID, drawTicks: false, tickLength: 0 },
            border: { display: false },
            ticks: {
              padding: 11,
              color: TEXT,
              font: { family: FONT_AXIS, size: 15 },
              callback: (v: any) => fmt(v),
            },
          },
        },
      } as any,
      plugins: [rsiOverlayPlugin],
    });
    return () => chart.destroy();
  }, []);
  return <canvas ref={ref} width={1372} height={202} style={{ position: "absolute", left: 0, top: 779 }} />;
}

export default function App() {
  const blue = { color: "#2f4fd0" };
  const change = lastBar.c - prevClose;
  const changePct = (change / prevClose) * 100;
  return (
    <div style={{ position: "absolute", left: 0, top: 0, width: 1372, height: 981, background: "#fff", overflow: "hidden" }}>
      <PriceChart />
      <RsiChart />
      <div
        style={{
          position: "absolute",
          left: 4,
          top: 1,
          font: `12.5px ${FONT_NARROW}`,
          lineHeight: "16px",
          color: TEXT,
          whiteSpace: "nowrap",
          transform: "scaleX(0.8)",
          transformOrigin: "0 0",
        }}
      >
        {descText} · {headerMeta}
        <span style={{ marginLeft: 7 }}>Abr</span>
        <span style={blue}>{fmt(lastBar.o)}</span>
        <span style={{ marginLeft: 7 }}>Máx.</span>
        <span style={blue}>{fmt(lastBar.h)}</span>
        <span style={{ marginLeft: 7 }}>Mín.</span>
        <span style={blue}>{fmt(lastBar.l)}</span>
        <span style={{ marginLeft: 7 }}>Fch</span>
        <span style={blue}>{fmt(lastBar.c)}</span>
        <span style={{ ...blue, marginLeft: 7 }}>
          {(change >= 0 ? "+" : "") + fmt(change)} ({(changePct >= 0 ? "+" : "") + fmt(changePct)}%)
        </span>
      </div>
      <div
        style={{
          position: "absolute",
          left: 1295,
          top: -5,
          width: 72,
          height: 26,
          border: "1px solid #e0e3eb",
          borderRadius: 4,
          boxSizing: "border-box",
          font: `10.5px ${FONT_AXIS}`,
          color: TEXT,
          paddingLeft: 8,
          paddingTop: 10,
        }}
      >
        {currency}
      </div>
    </div>
  );
}
